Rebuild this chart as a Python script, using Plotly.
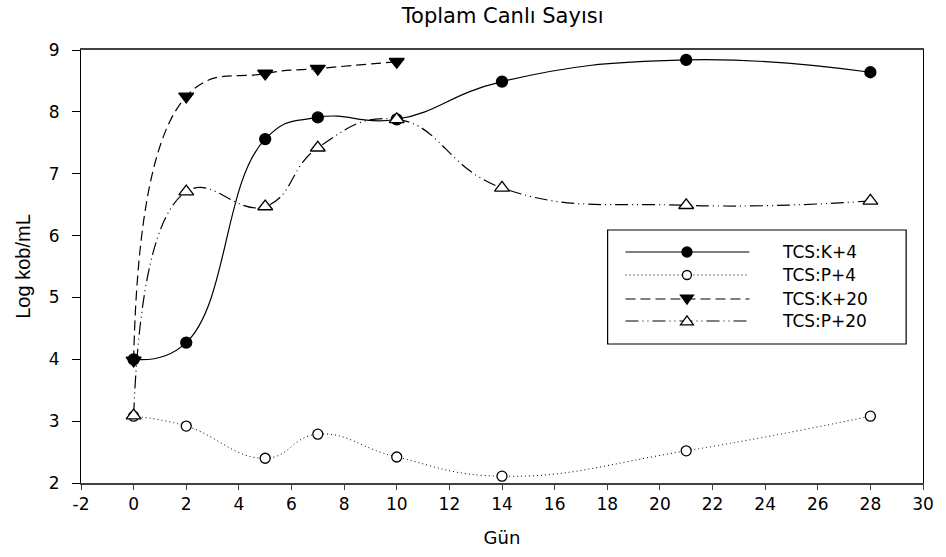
import plotly.graph_objects as go

# ---------------- data ----------------
days = [0, 2, 5, 7, 10, 14, 21, 28]
days_k20 = [0, 2, 5, 7, 10]
tcs_k4 = [4.00, 4.27, 7.56, 7.91, 7.88, 8.49, 8.84, 8.64]
tcs_p4 = [3.08, 2.92, 2.40, 2.79, 2.42, 2.11, 2.52, 3.08]
tcs_k20 = [3.98, 8.25, 8.62, 8.70, 8.81]
tcs_p20 = [3.09, 6.71, 6.47, 7.42, 7.88, 6.77, 6.49, 6.56]
series_names = ["TCS:K+4", "TCS:P+4", "TCS:K+20", "TCS:P+20"]
x_ticks = list(range(-2, 31, 2))
y_ticks = list(range(2, 10))

FONT = "DejaVu Sans, Liberation Sans, Arial, sans-serif"
BLACK = "#000000"

# plot area in pixels
W, H = 946, 557
L, R, T, B = 81, 930, 50, 483

styles = {
    "TCS:K+4": dict(dash="solid", symbol="circle", size=11, fill=BLACK, lw=1.2),
    "TCS:P+4": dict(dash="1px,3px", symbol="circle-open", size=10, fill="white", lw=1.0),
    "TCS:K+20": dict(dash="10px,5px", symbol="triangle-down", size=13, fill=BLACK, lw=1.2),
    "TCS:P+20": dict(dash="13px,4px,1px,4px,1px,4px", symbol="triangle-up", size=13, fill="white", lw=1.2),
}

fig = go.Figure()

def add(xs, ys, name):
    s = styles[name]
    sym = s["symbol"].replace("-open", "")
    fig.add_trace(go.Scatter(
        x=xs, y=ys, name=name, mode="lines+markers",
        line=dict(color=BLACK, width=s["lw"], dash=s["dash"], shape="spline", smoothing=1.3),
        marker=dict(symbol=sym, size=s["size"], color=s["fill"],
                    line=dict(color=BLACK, width=1.3)),
        showlegend=False,
    ))

add(days_k20, tcs_k20, "TCS:K+20")
add(days, tcs_k4, "TCS:K+4")
add(days, tcs_p4, "TCS:P+4")
add(days, tcs_p20, "TCS:P+20")

# ---------------- manual legend (layout decoration) ----------------
def px2paper(px, py):
    return (px - L) / (R - L), (B - py) / (B - T)

shapes = []
annotations = []
bx0, by0 = px2paper(612, 230)
bx1, by1 = px2paper(913, 344)
shapes.append(dict(type="rect", xref="paper", yref="paper", x0=bx0, x1=bx1, y0=by1, y1=by0,
                   line=dict(color=BLACK, width=1.2), fillcolor="white", layer="above"))
rows_py = [252, 275, 299, 321]
for name, py in zip(series_names, rows_py):
    s = styles[name]
    lx0, ly = px2paper(630, py)
    lx1, _ = px2paper(755, py)
    mx, _ = px2paper(692, py)
    tx, _ = px2paper(786, py)
    shapes.append(dict(type="line", xref="paper", yref="paper", x0=lx0, x1=lx1, y0=ly, y1=ly,
                       line=dict(color=BLACK, width=s["lw"], dash=s["dash"]), layer="above"))
    r = s["size"] / 2
    common = dict(xref="paper", yref="paper", xsizemode="pixel", ysizemode="pixel",
                  xanchor=mx, yanchor=ly, fillcolor=s["fill"],
                  line=dict(color=BLACK, width=1.3), layer="above")
    if "circle" in s["symbol"]:
        shapes.append(dict(type="circle", x0=-r + 0.5, x1=r - 0.5, y0=-r + 0.5, y1=r - 0.5, **common))
    elif s["symbol"] == "triangle-down":
        shapes.append(dict(type="path", path=f"M{-r},{r*0.6} L{r},{r*0.6} L0,{-r*0.8} Z", **common))
    else:
        shapes.append(dict(type="path", path=f"M{-r},{-r*0.6} L{r},{-r*0.6} L0,{r*0.8} Z", **common))
    annotations.append(dict(xref="paper", yref="paper", x=tx, y=ly, text=name, showarrow=False,
                            xanchor="left", yanchor="middle",
                            font=dict(family=FONT, size=17, color=BLACK)))

fig.update_layout(
    width=W, height=H,
    margin=dict(l=L, r=W - R, t=T, b=H - B, pad=0),
    paper_bgcolor="white", plot_bgcolor="white",
    title=dict(text="Toplam Canlı Sayısı", x=(L + R) / 2 / W - 0.003, xanchor="center",
               y=1 - 16 / H, yanchor="middle",
               font=dict(family=FONT, size=21, color=BLACK)),
    shapes=shapes, annotations=annotations,
    showlegend=False,
)
fig.update_xaxes(
    range=[-2, 30], tickvals=x_ticks, ticktext=[str(v) for v in x_ticks],
    showgrid=False, zeroline=False,
    showline=True, linecolor="#404040", linewidth=1.6, mirror=True,
    ticks="outside", ticklen=5, tickcolor="#404040", tickwidth=1.3,
    tickfont=dict(family=FONT, size=17, color=BLACK),
    title=dict(text="Gün", font=dict(family=FONT, size=18, color=BLACK), standoff=18),
)
fig.update_yaxes(
    range=[2, 9], tickvals=y_ticks, ticktext=[str(v) for v in y_ticks],
    showgrid=False, zeroline=False,
    showline=True, linecolor=BLACK, linewidth=1.2, mirror=True,
    ticks="outside", ticklen=8, tickcolor=BLACK, tickwidth=1.3,
    tickfont=dict(family=FONT, size=17, color=BLACK),
    ticklabelstandoff=9,
    title=dict(text="Log kob/mL", font=dict(family="Liberation Sans Narrow, Liberation Sans, Arial, sans-serif",
                                            size=20, color=BLACK),
               standoff=12),
)

fig.write_html("out.html")
